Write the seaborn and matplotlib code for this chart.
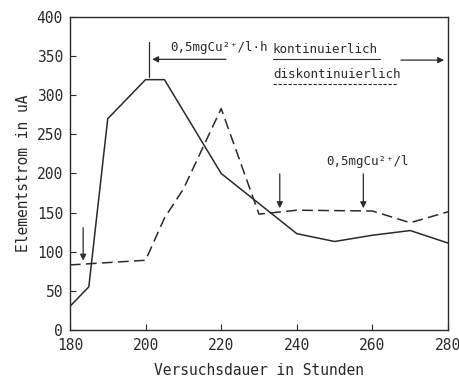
import pandas as pd
import matplotlib.pyplot as plt
import seaborn as sns

# Data
x_kont = [180, 185, 190, 200, 205, 220, 240, 250, 260, 270, 280]
y_kont = [30, 55, 270, 320, 320, 200, 123, 113, 121, 127, 111]

x_disk = [180, 200, 205, 210, 220, 230, 240, 260, 270, 280]
y_disk = [83, 89, 143, 180, 283, 148, 153, 152, 137, 151]

x_ticks = [180, 200, 220, 240, 260, 280]
y_ticks = [0, 50, 100, 150, 200, 250, 300, 350, 400]

df_kont = pd.DataFrame({"Stunden": x_kont, "Strom": y_kont})
df_disk = pd.DataFrame({"Stunden": x_disk, "Strom": y_disk})

sns.set_theme(style="ticks")
plt.rcParams['font.family'] = ['DejaVu Sans Mono', 'DejaVu Sans']
ink = "#2a2a2a"

fig = plt.figure(figsize=(4.6, 3.8), dpi=100)
ax = fig.add_axes([0.152, 0.132, 0.822, 0.823])

sns.lineplot(data=df_kont, x="Stunden", y="Strom", ax=ax, color=ink, lw=1.1)
sns.lineplot(data=df_disk, x="Stunden", y="Strom", ax=ax, color=ink, lw=1.1,
             linestyle=(0, (7, 3.5)))

ax.set_xlim(180, 280)
ax.set_ylim(0, 400)
ax.set_xticks(x_ticks)
ax.set_yticks(y_ticks)
ax.tick_params(direction="in", length=4, width=0.8, colors=ink, labelsize=10.5,
               labelcolor=ink)
ax.tick_params(axis="x", pad=6)
ax.tick_params(axis="y", pad=5)
for s in ax.spines.values():
    s.set_color(ink)
    s.set_linewidth(1.0)
ax.set_xlabel("Versuchsdauer in Stunden", fontsize=10.5, color=ink, labelpad=7)
ax.set_ylabel("Elementstrom in uA", fontsize=10.5, color=ink)

# annotations
fs = 9
arrow = dict(arrowstyle="-|>", color=ink, lw=0.9, mutation_scale=9)
ax.plot([201, 201], [323, 368], color=ink, lw=0.9)
ax.annotate("", xy=(201, 346), xytext=(222, 346), arrowprops=arrow)
ax.text(206.5, 353, "0,5mgCu²⁺/l·h", fontsize=fs, color=ink, va="bottom")
ax.text(233.7, 359, "kontinuierlich", fontsize=fs, color=ink, va="center")
ax.plot([233.7, 262], [346, 346], color=ink, lw=0.8)
ax.text(233.7, 327, "diskontinuierlich", fontsize=fs, color=ink, va="center")
ax.plot([233.7, 266.5], [314, 314], color=ink, lw=0.8, linestyle=(0, (3, 1.5)))
ax.annotate("", xy=(279.7, 345), xytext=(266.8, 345), arrowprops=arrow)

ax.text(258.8, 207, "0,5mgCu²⁺/l", fontsize=fs, color=ink, ha="center",
        va="bottom")
ax.annotate("", xy=(257.6, 152), xytext=(257.6, 203), arrowprops=arrow)
ax.annotate("", xy=(235.5, 152), xytext=(235.5, 203), arrowprops=arrow)
ax.annotate("", xy=(183.5, 85), xytext=(183.5, 134), arrowprops=arrow)

plt.savefig("out.png", dpi=100)
